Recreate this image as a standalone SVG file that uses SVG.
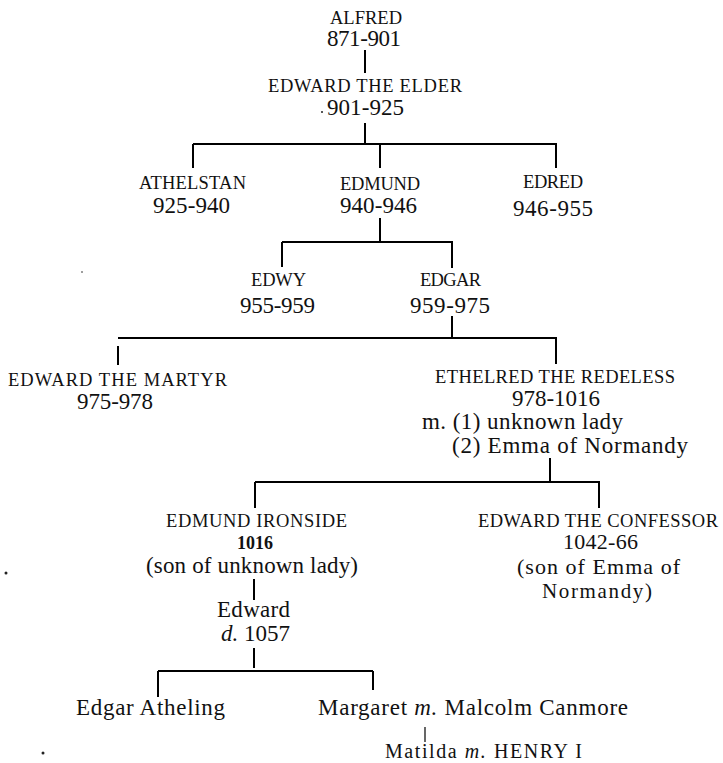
<svg xmlns="http://www.w3.org/2000/svg" width="723" height="763" viewBox="0 0 723 763">
<style>
  text { font-family: "Liberation Serif", "Times New Roman", serif; fill: #111; }
  .n { font-size: 18.5px; }
  .d { font-size: 23px; }
  .t { font-size: 23px; }
  .u { font-size: 22px; }
  .s { font-size: 20px; }
  .b { font-size: 18px; font-weight: bold; }
  .i { font-style: italic; }
  .c line { stroke: #000; stroke-width: 2; stroke-linecap: butt; }
  .c line.thin { stroke-width: 1.2; }
</style>
<rect width="723" height="763" fill="#fff"/>

<g id="connectors" class="c">
  <line x1="365" y1="50" x2="365" y2="73"/>
  <line x1="365" y1="123" x2="365" y2="143"/>
  <line x1="193" y1="144" x2="557" y2="144"/>
  <line x1="193" y1="144" x2="193" y2="168"/>
  <line x1="380" y1="144" x2="380" y2="168"/>
  <line x1="556" y1="144" x2="556" y2="168"/>
  <line x1="380" y1="218" x2="380" y2="242"/>
  <line x1="282" y1="242" x2="453" y2="242"/>
  <line x1="282" y1="242" x2="282" y2="267"/>
  <line x1="452" y1="242" x2="452" y2="268"/>
  <line x1="452" y1="316" x2="452" y2="338"/>
  <line x1="118" y1="338" x2="557" y2="338"/>
  <line x1="118" y1="346" x2="118" y2="365"/>
  <line x1="556" y1="338" x2="556" y2="364"/>
  <line x1="550" y1="458" x2="550" y2="482"/>
  <line x1="255" y1="482" x2="600" y2="482"/>
  <line x1="255" y1="482" x2="255" y2="508"/>
  <line x1="599" y1="482" x2="599" y2="508"/>
  <line x1="254" y1="579" x2="254" y2="600"/>
  <line x1="254" y1="648" x2="254" y2="668"/>
  <line x1="158" y1="671" x2="373" y2="671"/>
  <line x1="158" y1="671" x2="158" y2="697"/>
  <line x1="373" y1="671" x2="373" y2="690"/>
  <line class="thin" x1="425" y1="727" x2="425" y2="742"/>
</g>

<g id="alfred">
  <text class="n" x="330" y="24" textLength="72" lengthAdjust="spacing">ALFRED</text>
  <text class="d" x="327" y="46" textLength="74" lengthAdjust="spacing">871-901</text>
</g>
<g id="edward-the-elder">
  <text class="n" x="268" y="92" textLength="194" lengthAdjust="spacing">EDWARD THE ELDER</text>
  <text class="d" x="327" y="115" textLength="77" lengthAdjust="spacing">901-925</text>
</g>
<g id="athelstan">
  <text class="n" x="139" y="189" textLength="107" lengthAdjust="spacing">ATHELSTAN</text>
  <text class="d" x="153" y="213" textLength="77" lengthAdjust="spacing">925-940</text>
</g>
<g id="edmund">
  <text class="n" x="340" y="190" textLength="80" lengthAdjust="spacing">EDMUND</text>
  <text class="d" x="340" y="213" textLength="77" lengthAdjust="spacing">940-946</text>
</g>
<g id="edred">
  <text class="n" x="523" y="188" textLength="60" lengthAdjust="spacing">EDRED</text>
  <text class="d" x="513" y="216" textLength="80" lengthAdjust="spacing">946-955</text>
</g>
<g id="edwy">
  <text class="n" x="251" y="286" textLength="55" lengthAdjust="spacing">EDWY</text>
  <text class="d" x="240" y="313" textLength="75" lengthAdjust="spacing">955-959</text>
</g>
<g id="edgar">
  <text class="n" x="420" y="286" textLength="61" lengthAdjust="spacing">EDGAR</text>
  <text class="d" x="410" y="313" textLength="80" lengthAdjust="spacing">959-975</text>
</g>
<g id="edward-the-martyr">
  <text class="n" x="8" y="386" textLength="219" lengthAdjust="spacing">EDWARD THE MARTYR</text>
  <text class="d" x="77" y="409" textLength="76" lengthAdjust="spacing">975-978</text>
</g>
<g id="ethelred">
  <text class="n" x="435" y="383" textLength="240" lengthAdjust="spacing">ETHELRED THE REDELESS</text>
  <text class="d" x="512" y="406" textLength="88" lengthAdjust="spacing">978-1016</text>
  <text class="t" x="422" y="429" textLength="201" lengthAdjust="spacing">m. (1) unknown lady</text>
  <text class="t" x="452" y="453" textLength="236" lengthAdjust="spacing">(2) Emma of Normandy</text>
</g>
<g id="edmund-ironside">
  <text class="n" x="166" y="527" textLength="181" lengthAdjust="spacing">EDMUND IRONSIDE</text>
  <text class="b" x="237" y="549" textLength="36" lengthAdjust="spacing">1016</text>
  <text class="t" x="146" y="573" textLength="212" lengthAdjust="spacing">(son of unknown lady)</text>
</g>
<g id="edward-the-confessor">
  <text class="n" x="478" y="527" textLength="240" lengthAdjust="spacing">EDWARD THE CONFESSOR</text>
  <text class="u" x="563" y="549" textLength="75" lengthAdjust="spacing">1042-66</text>
  <text class="u" x="517" y="574" textLength="163" lengthAdjust="spacing">(son of Emma of</text>
  <text class="u" x="542" y="598" textLength="110" lengthAdjust="spacing" style="font-size:21px">Normandy)</text>
</g>
<g id="edward">
  <text class="t" x="217" y="617" textLength="73" lengthAdjust="spacing">Edward</text>
  <text class="t" x="221" y="641" textLength="69" lengthAdjust="spacing"><tspan class="i">d.</tspan> 1057</text>
</g>
<g id="edgar-atheling">
  <text class="t" x="76" y="715" textLength="149" lengthAdjust="spacing">Edgar Atheling</text>
</g>
<g id="margaret">
  <text class="t" x="318" y="715" textLength="310" lengthAdjust="spacing">Margaret <tspan class="i">m.</tspan> Malcolm Canmore</text>
</g>
<g id="matilda">
  <text class="s" x="385" y="758" textLength="197" lengthAdjust="spacing">Matilda <tspan class="i">m.</tspan> HENRY I</text>
</g>

<g id="specks" fill="#222">
  <circle cx="322" cy="112" r="1"/>
  <circle cx="82" cy="272" r="0.8"/>
  <circle cx="6" cy="573" r="1.5"/>
  <circle cx="43" cy="753" r="1.5"/>
</g>
</svg>
